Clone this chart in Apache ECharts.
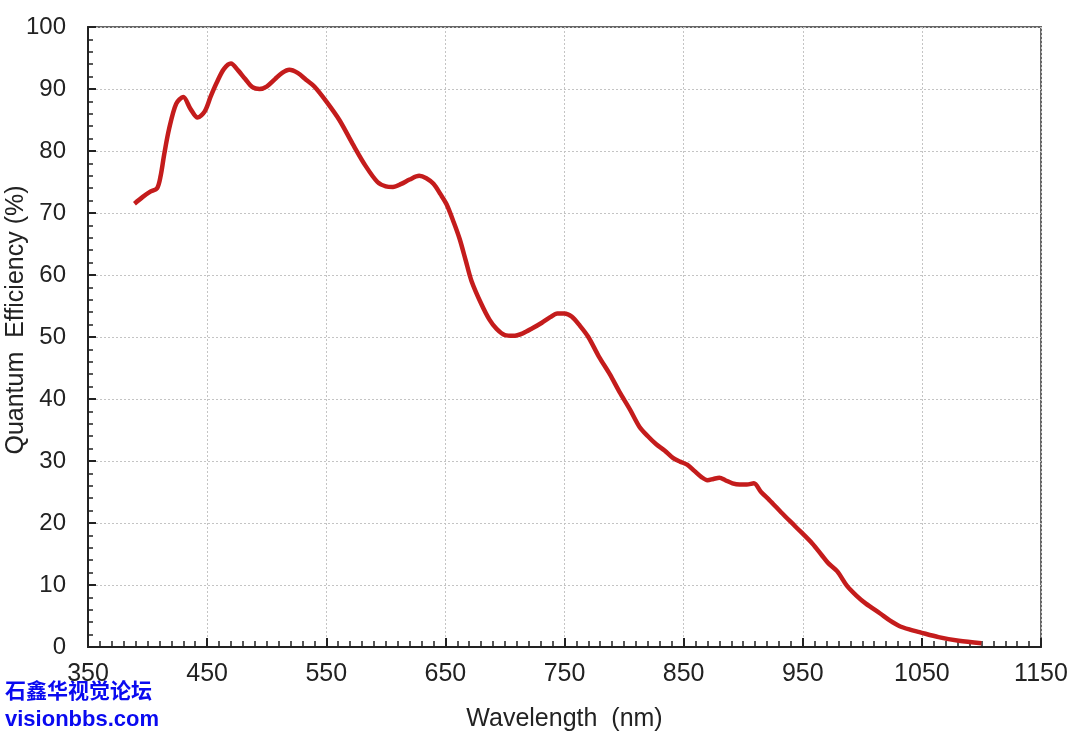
<!DOCTYPE html>
<html>
<head>
<meta charset="utf-8">
<script src="https://cdn.jsdelivr.net/npm/echarts@6/dist/echarts.min.js"></script>
<style>
html,body{margin:0;padding:0;background:#fff;}
#c{width:1084px;height:737px;}
</style>
</head>
<body>
<div id="c"></div>
<script>
const wavelengths = [389,396,402,408,411,414,418,424,430,436,442,448,453,458,464,470,476,482,488,494,500,507,513,519,526,533,540,550,561,572,583,593,600,606,613,620,628,634,640,646,651,657,662,667,672,680,687,693,700,707,715,723,731,738,744,750,756,763,770,779,788,796,805,813,820,827,834,841,847,853,859,865,870,875,880,885,891,897,903,909,915,922,932,944,958,966,971,979,987,995,1003,1015,1023,1031,1040,1048,1064,1081,1100];
const qe = [71.5,72.6,73.4,74.0,76.0,79.5,83.5,87.6,88.7,86.8,85.4,86.4,88.8,91.0,93.2,94.1,93.0,91.6,90.3,90.0,90.4,91.6,92.6,93.1,92.6,91.5,90.4,88.0,85.0,81.2,77.6,75.0,74.3,74.2,74.7,75.4,76.0,75.6,74.7,73.0,71.4,68.5,65.8,62.4,59.0,55.4,52.8,51.3,50.3,50.2,50.6,51.4,52.3,53.2,53.8,53.8,53.3,51.8,50.0,46.8,44.0,41.2,38.3,35.5,34.0,32.7,31.7,30.5,29.9,29.4,28.4,27.4,26.9,27.1,27.3,26.9,26.4,26.2,26.2,26.4,25.0,23.7,21.7,19.4,16.7,14.8,13.6,12.2,9.9,8.3,7.0,5.4,4.3,3.4,2.8,2.4,1.6,1.0,0.6];
const xTitle = "Wavelength  (nm)";
const yTitle = "Quantum  Efficiency (%)";
const watermark1 = "石鑫华视觉论坛";
const watermark2 = "visionbbs.com";

const seriesData = wavelengths.map((w, i) => [w, qe[i]]);
const chart = echarts.init(document.getElementById('c'), null, {renderer: 'canvas'});
const font = "'Liberation Sans', Arial, sans-serif";
chart.setOption({
  backgroundColor: '#fff',
  animation: false,
  grid: {left: 88, right: 43, top: 27, bottom: 90, containLabel: false, outerBoundsMode: 'none',
         show: true, borderColor: '#666', borderWidth: 2, backgroundColor: 'transparent'},
  xAxis: {
    type: 'value', min: 350, max: 1150, interval: 100,
    name: xTitle, nameLocation: 'middle', nameGap: 60,
    nameTextStyle: {fontFamily: font, fontSize: 25, color: '#222'},
    axisLine: {show: true, onZero: false, lineStyle: {color: '#222', width: 2}},
    axisTick: {show: true, inside: true, length: 9, lineStyle: {color: '#222', width: 2}},
    minorTick: {show: true, splitNumber: 10, length: 6, lineStyle: {color: '#222', width: 1.5}},
    axisLabel: {fontFamily: font, fontSize: 25, color: '#222', margin: 15, formatter: v => String(v)},
    splitLine: {show: true, lineStyle: {color: '#c4c4c4', type: [2, 2], width: 1}}
  },
  yAxis: {
    type: 'value', min: 0, max: 100, interval: 10,
    axisLine: {show: true, onZero: false, lineStyle: {color: '#222', width: 2}},
    axisTick: {show: true, inside: true, length: 8, lineStyle: {color: '#222', width: 2}},
    minorTick: {show: true, splitNumber: 5, length: 5, lineStyle: {color: '#222', width: 1.5}},
    axisLabel: {fontFamily: font, fontSize: 24, color: '#222', margin: 22, formatter: v => String(v)},
    splitLine: {show: true, lineStyle: {color: '#c4c4c4', type: [2, 2], width: 1}}
  },
  series: [{
    type: 'line', data: seriesData, smooth: 0.3, showSymbol: false,
    lineStyle: {color: '#c41c1c', width: 4.5},
    clip: false
  }],
  graphic: [
    {type: 'text', x: 16, y: 320, rotation: Math.PI / 2,
     style: {text: yTitle, fill: '#222', font: "25px 'Liberation Sans', Arial, sans-serif", align: 'center', verticalAlign: 'middle'}},
    {type: 'text', left: 5, top: 680, style: {text: watermark1, fill: '#0a0af0', font: "bold 21px 'Noto Sans CJK SC', sans-serif"}},
    {type: 'text', left: 5, top: 709, style: {text: watermark2, fill: '#0a0af0', font: "bold 22px 'Liberation Sans', Arial, sans-serif"}}
  ]
});
</script>
</body>
</html>
